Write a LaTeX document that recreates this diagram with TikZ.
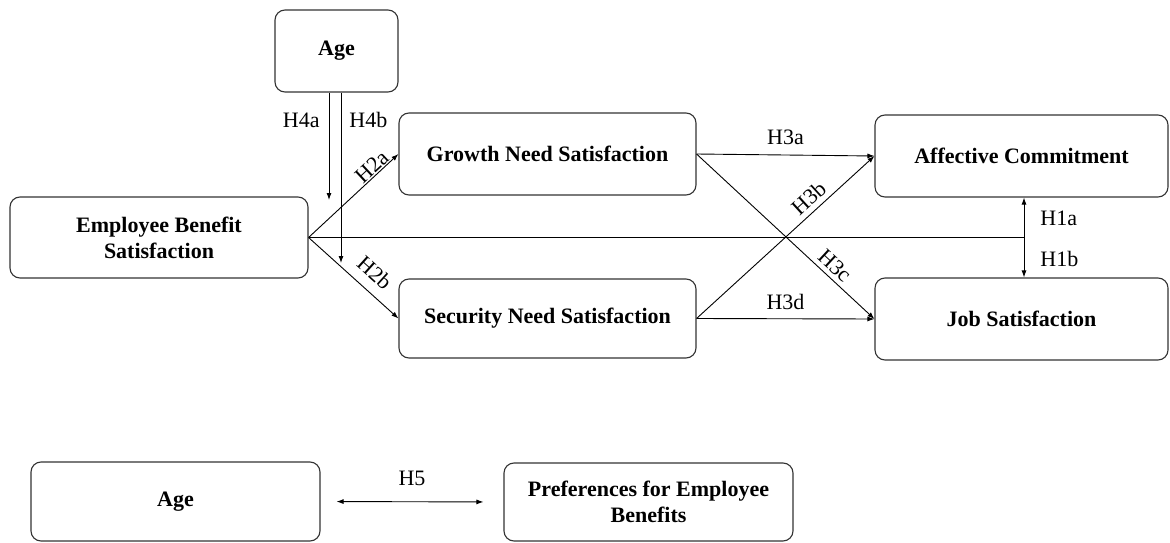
\documentclass[tikz,border=0pt]{standalone}
\usepackage{fontspec}
\setmainfont{Liberation Serif}
\usetikzlibrary{arrows.meta}
\begin{document}
\begin{tikzpicture}[x=1pt,y=-1pt,
 box/.style={draw=black!80, line width=1.1pt, rounded corners=10pt, align=center, font=\fontsize{22}{26}\selectfont\bfseries, inner sep=0pt},
 conn/.style={line width=0.9pt, draw=black},
 arr/.style={conn, -{Latex[length=7pt,width=5pt]}},
 darr/.style={conn, {Latex[length=7pt,width=5pt]}-{Latex[length=7pt,width=5pt]}},
 lab/.style={font=\fontsize{22}{26}\selectfont, inner sep=1pt}]
\useasboundingbox (0,0) rectangle (1170,543);

\node[box, minimum width=123pt, minimum height=82pt] (age) at (336.5,51) {Age};
\node[box, minimum width=298pt, minimum height=81pt] (ebs) at (159,237.5) {Employee Benefit\\Satisfaction};
\node[box, minimum width=297pt, minimum height=82pt] (gns) at (547.5,154) {Growth Need Satisfaction};
\node[box, minimum width=297pt, minimum height=79pt] (sns) at (547.5,318.5) {Security Need Satisfaction};
\node[box, minimum width=293pt, minimum height=82pt] (ac) at (1021.5,156) {Affective Commitment};
\node[box, minimum width=293pt, minimum height=82pt] (js) at (1021.5,319) {Job Satisfaction};
\node[box, minimum width=289pt, minimum height=79pt] (age2) at (175.5,501.5) {Age};
\node[box, minimum width=289pt, minimum height=78pt] (pref) at (648.5,502) {Preferences for Employee\\Benefits};

\coordinate (h4a) at (329,200);
\coordinate (h4b) at (341,263);
\coordinate (j) at (1024,237.5);

\draw[arr] (age.south -| h4a) -- node[lab, pos=0.26, left=8pt]{H4a} (h4a);
\draw[arr] (age.south -| h4b) -- node[lab, pos=0.16, right=7pt]{H4b} (h4b);
\draw[arr] (ebs.east) -- node[lab, pos=0.77, sloped, above=0pt]{H2a} (gns.west);
\draw[arr] (ebs.east) -- node[lab, pos=0.6, sloped, above=9pt]{H2b} (sns.west);
\draw[conn] (ebs.east) -- (ebs.east -| j);
\draw[darr] (ac.south -| j) -- node[lab, pos=0.26, right=15pt]{H1a} node[lab, pos=0.77, right=15pt]{H1b} (js.north -| j);

\draw[arr] (gns.east) -- node[lab, pos=0.5, above=8.5pt]{H3a} (ac.west);
\draw[arr] (gns.east) -- node[lab, pos=0.73, sloped, above=3.5pt]{H3c} (js.west);
\draw[arr] (sns.east) -- node[lab, pos=0.68, sloped, above=4pt]{H3b} (ac.west);
\draw[arr] (sns.east) -- node[lab, pos=0.5, above=8pt]{H3d} (js.west);
\draw[darr, shorten <=16pt, shorten >=20pt] (age2.east) -- node[lab, above=14.5pt]{H5} (pref.west);
\end{tikzpicture}
\end{document}
